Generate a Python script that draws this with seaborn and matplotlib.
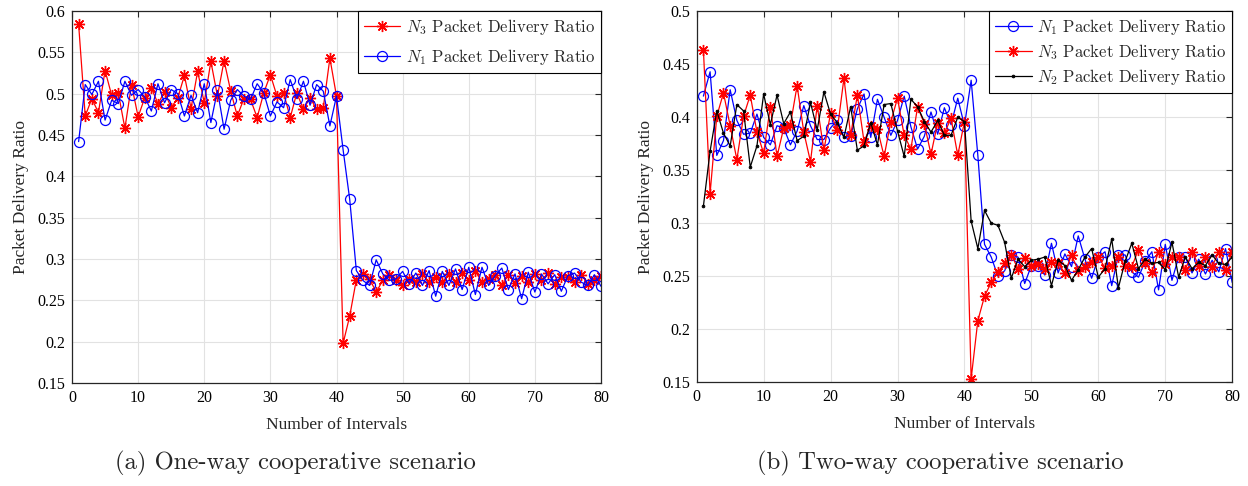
import numpy as np
import matplotlib
matplotlib.use("Agg")
import matplotlib.pyplot as plt
import seaborn as sns
from matplotlib.ticker import FuncFormatter
from matplotlib.font_manager import FontProperties

intervals = list(range(1, 81))

# (a) One-way cooperative scenario
left_n3 = [0.584, 0.473, 0.494, 0.477, 0.528, 0.498, 0.501, 0.458, 0.511, 0.472,
           0.495, 0.507, 0.488, 0.502, 0.483, 0.495, 0.522, 0.482, 0.527, 0.489,
           0.539, 0.497, 0.540, 0.503, 0.473, 0.494, 0.493, 0.471, 0.501, 0.523,
           0.497, 0.501, 0.471, 0.501, 0.481, 0.495, 0.481, 0.483, 0.543, 0.497,
           0.198, 0.231, 0.275, 0.282, 0.276, 0.260, 0.274, 0.281, 0.274, 0.268,
           0.276, 0.272, 0.282, 0.272, 0.278, 0.272, 0.282, 0.272, 0.283, 0.274,
           0.285, 0.272, 0.276, 0.281, 0.268, 0.281, 0.271, 0.280, 0.272, 0.282,
           0.274, 0.283, 0.270, 0.278, 0.278, 0.272, 0.281, 0.270, 0.274, 0.279]
left_n1 = [0.442, 0.511, 0.499, 0.515, 0.468, 0.492, 0.488, 0.515, 0.498, 0.505,
           0.496, 0.479, 0.512, 0.489, 0.505, 0.500, 0.473, 0.498, 0.477, 0.512,
           0.465, 0.504, 0.457, 0.492, 0.505, 0.497, 0.493, 0.512, 0.501, 0.473,
           0.490, 0.483, 0.517, 0.494, 0.515, 0.486, 0.511, 0.503, 0.461, 0.497,
           0.432, 0.372, 0.286, 0.274, 0.268, 0.299, 0.282, 0.274, 0.276, 0.285,
           0.270, 0.283, 0.268, 0.286, 0.255, 0.285, 0.268, 0.288, 0.263, 0.290,
           0.257, 0.290, 0.268, 0.280, 0.289, 0.263, 0.282, 0.252, 0.284, 0.260,
           0.282, 0.270, 0.281, 0.261, 0.280, 0.283, 0.272, 0.268, 0.281, 0.267]

# (b) Two-way cooperative scenario
right_n1 = [0.420, 0.443, 0.364, 0.378, 0.426, 0.397, 0.384, 0.385, 0.403, 0.381,
            0.374, 0.392, 0.390, 0.374, 0.387, 0.411, 0.392, 0.379, 0.379, 0.390,
            0.397, 0.381, 0.382, 0.408, 0.422, 0.381, 0.417, 0.400, 0.383, 0.397,
            0.420, 0.391, 0.370, 0.382, 0.405, 0.384, 0.409, 0.393, 0.418, 0.392,
            0.435, 0.364, 0.280, 0.268, 0.250, 0.255, 0.270, 0.268, 0.243, 0.260,
            0.260, 0.251, 0.281, 0.253, 0.271, 0.259, 0.288, 0.266, 0.248, 0.268,
            0.273, 0.241, 0.270, 0.270, 0.254, 0.249, 0.264, 0.273, 0.237, 0.280,
            0.246, 0.268, 0.268, 0.253, 0.266, 0.252, 0.265, 0.254, 0.276, 0.244]
right_n3 = [0.464, 0.328, 0.401, 0.423, 0.392, 0.360, 0.401, 0.421, 0.386, 0.366,
            0.410, 0.363, 0.390, 0.393, 0.430, 0.386, 0.358, 0.411, 0.369, 0.404,
            0.388, 0.437, 0.383, 0.421, 0.377, 0.392, 0.389, 0.363, 0.396, 0.418,
            0.383, 0.370, 0.410, 0.394, 0.365, 0.395, 0.385, 0.399, 0.364, 0.396,
            0.153, 0.208, 0.231, 0.244, 0.254, 0.262, 0.270, 0.257, 0.267, 0.260,
            0.261, 0.257, 0.263, 0.262, 0.253, 0.270, 0.255, 0.259, 0.263, 0.268,
            0.258, 0.260, 0.268, 0.260, 0.259, 0.275, 0.262, 0.254, 0.273, 0.261,
            0.268, 0.268, 0.256, 0.273, 0.260, 0.268, 0.259, 0.273, 0.256, 0.273]
right_n2 = [0.316, 0.368, 0.406, 0.385, 0.373, 0.412, 0.406, 0.353, 0.373, 0.422,
            0.393, 0.421, 0.394, 0.405, 0.378, 0.382, 0.414, 0.388, 0.424, 0.403,
            0.395, 0.381, 0.410, 0.369, 0.373, 0.395, 0.374, 0.412, 0.413, 0.387,
            0.363, 0.417, 0.410, 0.396, 0.386, 0.397, 0.383, 0.383, 0.400, 0.396,
            0.302, 0.276, 0.312, 0.300, 0.298, 0.282, 0.248, 0.266, 0.259, 0.265,
            0.266, 0.268, 0.241, 0.265, 0.260, 0.246, 0.256, 0.268, 0.276, 0.249,
            0.257, 0.285, 0.239, 0.264, 0.281, 0.257, 0.266, 0.262, 0.263, 0.256,
            0.282, 0.249, 0.268, 0.257, 0.263, 0.260, 0.270, 0.262, 0.261, 0.268]

sns.set_theme(style="white")
plt.rcParams['font.family'] = ['Liberation Serif', 'DejaVu Serif']
plt.rcParams['mathtext.fontset'] = 'cm'

fig = plt.figure(figsize=(12.48, 4.86), dpi=100)
axL = fig.add_axes([72 / 1248, 103 / 486, 529 / 1248, 372 / 486])
axR = fig.add_axes([696.7 / 1248, 104 / 486, 535.5 / 1248, 370.6 / 486])

star = dict(marker=(8, 2, 0), markersize=8, markeredgecolor='red', markerfacecolor='red',
            markeredgewidth=1.0, linewidth=0.9, color='red')
circ = dict(marker='o', markersize=7.2, markeredgecolor='blue', markerfacecolor='none',
            markeredgewidth=0.9, linewidth=0.9, color='blue')
dot = dict(marker='.', markersize=4, markeredgecolor='black', markerfacecolor='black',
           markeredgewidth=0.6, linewidth=0.9, color='black')

sns.lineplot(x=intervals, y=left_n3, ax=axL, label=r'$N_3$ Packet Delivery Ratio', **star)
sns.lineplot(x=intervals, y=left_n1, ax=axL, label=r'$N_1$ Packet Delivery Ratio', **circ)

sns.lineplot(x=intervals, y=right_n1, ax=axR, label=r'$N_1$ Packet Delivery Ratio', **circ)
sns.lineplot(x=intervals, y=right_n3, ax=axR, label=r'$N_3$ Packet Delivery Ratio', **star)
sns.lineplot(x=intervals, y=right_n2, ax=axR, label=r'$N_2$ Packet Delivery Ratio', **dot)


def style(ax, ymax, spacing):
    ax.set_xlim(0, 80)
    ax.set_ylim(0.15, ymax)
    ax.set_xticks(range(0, 81, 10))
    yt = [round(0.15 + 0.05 * i, 2) for i in range(int(round((ymax - 0.15) / 0.05)) + 1)]
    ax.set_yticks(yt)
    ax.yaxis.set_major_formatter(FuncFormatter(lambda v, p: f"{v:g}"))
    ax.grid(True, color='#e2e2e2', linewidth=0.8)
    ax.set_axisbelow(True)
    ax.tick_params(direction='in', top=True, right=True, length=4, width=0.8,
                   color='#262626', labelsize=11.5, labelcolor='black', pad=5)
    for s in ax.spines.values():
        s.set_visible(True)
        s.set_color('#262626')
        s.set_linewidth(0.9)
    ax.set_xlabel('Number of Intervals', fontsize=12.5, labelpad=8)
    ax.set_ylabel('Packet Delivery Ratio', fontsize=12.5, labelpad=6)
    leg = ax.legend(loc='upper right', borderaxespad=0, fancybox=False, framealpha=1,
                    edgecolor='black', handlelength=2.2, handletextpad=0.35,
                    borderpad=0.35, labelspacing=spacing,
                    prop=FontProperties(family='cmr10', size=12))
    leg.get_frame().set_linewidth(0.8)


style(axL, 0.6, 0.6)
style(axR, 0.5, 0.3)

fig.text(295 / 1248, 1 - 463 / 486, '(a) One-way cooperative scenario',
         ha='center', va='center', fontsize=17.8, family='cmr10')
fig.text(940 / 1248, 1 - 463 / 486, '(b) Two-way cooperative scenario',
         ha='center', va='center', fontsize=17.8, family='cmr10')

fig.savefig('out.png', dpi=100)
